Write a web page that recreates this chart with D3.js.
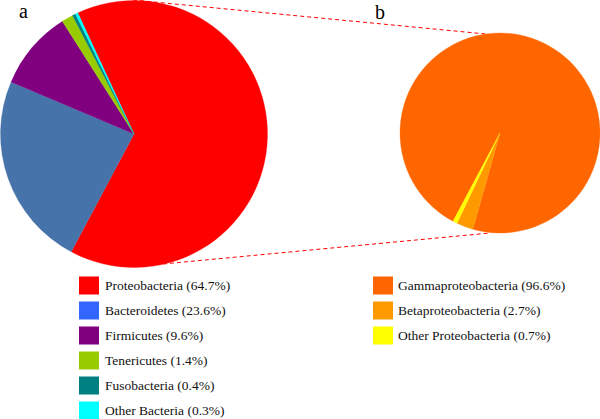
<!DOCTYPE html>
<html>
<head>
<meta charset="utf-8">
<script src="https://cdn.jsdelivr.net/npm/d3@7/dist/d3.min.js"></script>
<style>
  html, body { margin: 0; padding: 0; background: #fff; }
  svg { display: block; }
</style>
</head>
<body>
<svg id="chart" width="600" height="419"></svg>
<script>
// ---- data ----
const phylaNames = ["Proteobacteria", "Bacteroidetes", "Firmicutes", "Tenericutes", "Fusobacteria", "Other Bacteria"];
const phylaValues = [64.7, 23.6, 9.6, 1.4, 0.4, 0.3];
const phylaSliceColors = ["#FF0000", "#4673A9", "#800080", "#99CC00", "#008080", "#00FFFF"];
const phylaLegendColors = ["#FF0000", "#3366FF", "#800080", "#99CC00", "#008080", "#00FFFF"];

const proteoNames = ["Gammaproteobacteria", "Betaproteobacteria", "Other Proteobacteria"];
const proteoValues = [96.6, 2.7, 0.7];
const proteoColors = ["#FF6600", "#FF9900", "#FFFF00"];

const panelLabels = ["a", "b"];

// ---- drawing ----
const FONT = "'Liberation Serif', 'Times New Roman', Times, serif";
const svg = d3.select("#chart");
const deg = Math.PI / 180;

// connecting dashed lines (drawn first, under the pies)
const connectors = [
  [[133, 0], [486, 34]],
  [[163, 264], [490, 233]]
];
svg.selectAll("line.conn").data(connectors).enter().append("line")
  .attr("class", "conn")
  .attr("x1", d => d[0][0]).attr("y1", d => d[0][1])
  .attr("x2", d => d[1][0]).attr("y2", d => d[1][1])
  .attr("stroke", "#FF0000").attr("stroke-width", 1)
  .attr("stroke-dasharray", "4,3");

function drawPie(cx, cy, r, values, colors, startDeg) {
  const pie = d3.pie().sort(null).value(d => d)
    .startAngle(startDeg * deg).endAngle((startDeg + 360) * deg);
  const arc = d3.arc().innerRadius(0).outerRadius(r);
  const g = svg.append("g").attr("transform", `translate(${cx},${cy})`);
  g.selectAll("path").data(pie(values)).enter().append("path")
    .attr("d", arc)
    .attr("fill", (d, i) => colors[i])
    .attr("stroke", (d, i) => colors[i])
    .attr("stroke-width", 0.3);
}

drawPie(134, 134, 133.5, phylaValues, phylaSliceColors, -24.9);
drawPie(500, 133, 100, proteoValues, proteoColors, 208);

// panel labels
svg.append("text").attr("x", 19).attr("y", 18).attr("font-size", 20)
  .attr("font-family", FONT).attr("fill", "#000").text(panelLabels[0]);
svg.append("text").attr("x", 375).attr("y", 19).attr("font-size", 20)
  .attr("font-family", FONT).attr("fill", "#000").text(panelLabels[1]);

// legends
function drawLegend(x, y, names, values, colors, textX) {
  const g = svg.append("g");
  const rows = g.selectAll("g").data(names).enter().append("g")
    .attr("transform", (d, i) => `translate(${x},${y + i * 25})`);
  rows.append("rect").attr("width", 20).attr("height", 18)
    .attr("fill", (d, i) => colors[i]);
  rows.append("text").attr("x", textX).attr("y", 13.5)
    .attr("font-size", 13.5).attr("font-family", FONT).attr("fill", "#111")
    .text((d, i) => `${d} (${values[i]}%)`);
}
drawLegend(79, 276.5, phylaNames, phylaValues, phylaLegendColors, 26);
drawLegend(373, 276.5, proteoNames, proteoValues, proteoColors, 25);
</script>
</body>
</html>
